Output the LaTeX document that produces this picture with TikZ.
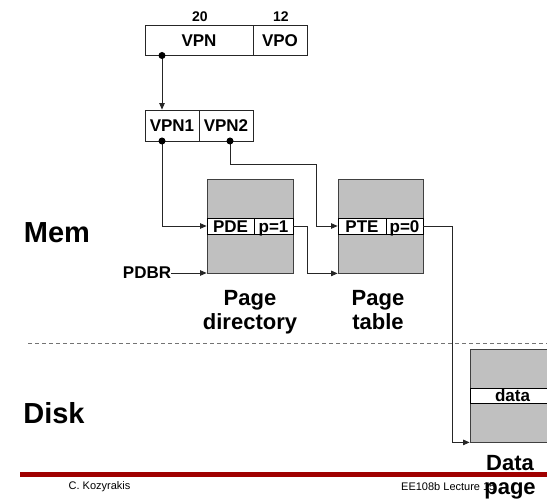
\documentclass[tikz,border=0pt]{standalone}
\usepackage{fontspec}
\setmainfont{Liberation Sans}
\usetikzlibrary{arrows.meta}
\definecolor{tblgray}{RGB}{192,192,192}
\definecolor{slidered}{RGB}{160,0,0}
\begin{document}
\begin{tikzpicture}[x=1pt,y=-1pt,
  lbl/.style={font=\bfseries\fontsize{17}{19}\selectfont, inner sep=0pt},
  numlbl/.style={font=\bfseries\fontsize{14}{16}\selectfont, inner sep=0pt, anchor=base},
  bigtxt/.style={font=\bfseries\fontsize{29}{32}\selectfont, inner sep=0pt},
  captxt/.style={font=\bfseries\fontsize{22}{24}\selectfont, inner sep=0pt, align=center, anchor=north},
  foot/.style={font=\fontsize{11}{13}\selectfont, inner sep=0pt},
  cell/.style={draw=black!85, line width=0.8pt, fill=white, inner sep=0pt, lbl, text height=12.2pt, text depth=0pt},
  tbl/.style={draw=black!75, line width=0.8pt, fill=tblgray, inner sep=0pt},
  rowcell/.style={draw=black, line width=0.8pt, fill=white, inner sep=0pt, minimum height=16pt, lbl, text height=12.2pt, text depth=0pt},
  conn/.style={draw=black!85, line width=0.8pt},
  arr/.style={conn, -{Triangle[length=6.5pt,width=5.5pt]}},
  dot/.style={fill=black}
]
\clip (0,0) rectangle (547,500);

% virtual address
\node[cell, minimum width=108pt, minimum height=30pt] (vpn) at (199,40.5) {VPN};
\node[cell, minimum width=54pt, minimum height=30pt] (vpo) at (280,40.5) {VPO};
\node[numlbl] (n20) at (200,21.5) {20};
\node[numlbl] (n12) at (281,21.5) {12};

% VPN1 / VPN2
\node[cell, minimum width=54pt, minimum height=31pt] (vpnone) at (172,125.5) {VPN1};
\node[cell, minimum width=54pt, minimum height=31pt] (vpntwo) at (226,125.5) {VPN2};

% page directory
\node[tbl, minimum width=86pt, minimum height=94pt] (pd) at (250,226) {};
\node[rowcell, minimum width=47pt] (pde) at (230.5,226) {PDE};
\node[rowcell, minimum width=39pt] (pone) at (273.5,226) {p=1};

% page table
\node[tbl, minimum width=85pt, minimum height=94pt] (pt) at (380.5,226) {};
\node[rowcell, minimum width=48pt] (pte) at (362,226) {PTE};
\node[rowcell, minimum width=37pt] (pzero) at (404.5,226) {p=0};

% data page
\node[tbl, minimum width=85pt, minimum height=93pt] (dp) at (512.5,395.5) {};
\node[rowcell, minimum width=85pt, minimum height=15pt] (drow) at (512.5,395.5) {data};

% labels
\node[bigtxt] (mem) at (57,233) {Mem};
\node[bigtxt] (disk) at (54,413) {Disk};
\node[lbl] (pdbr) at (147,273) {PDBR};
\node[captxt] (pdcap) at (250,290) {Page\\directory};
\node[captxt] (ptcap) at (378,290) {Page\\table};

% connector helper points
\coordinate (d0) at (162,55.5);
\coordinate (d1) at (162,141);
\coordinate (d2) at (230,141);
\coordinate (k1) at (316,164);
\coordinate (k2) at (307,226);
\coordinate (k3) at (452,226);

% connectors
\draw[arr] (d0) -- (d0 |- vpnone.north);
\draw[arr] (d1) |- (pde.west);
\draw[arr] (d2) |- (k1) |- (pte.west);
\draw[arr] (pone.east) -- (k2) |- (pt.south west);
\draw[arr] (pdbr.east) -- (pdbr.east -| pd.west);
\draw[arr] (pzero.east) -- (k3) |- (dp.south west);

\fill[dot] (d0) circle (3.5);
\fill[dot] (d1) circle (3.5);
\fill[dot] (d2) circle (3.5);

% mem / disk separator
\draw[black!55, line width=0.8pt, dash pattern=on 4pt off 3pt] (28,343) -- (547,343);

% footer
\draw[slidered, line width=5pt] (20,474) -- (547,474);
\node[foot] (author) at (99.5,487) {C. Kozyrakis};
\node[foot, anchor=west] (lect) at (401,487) {EE108b Lecture 15};
\node[captxt] (dpcap) at (510,455) {Data\\page};
\end{tikzpicture}
\end{document}
